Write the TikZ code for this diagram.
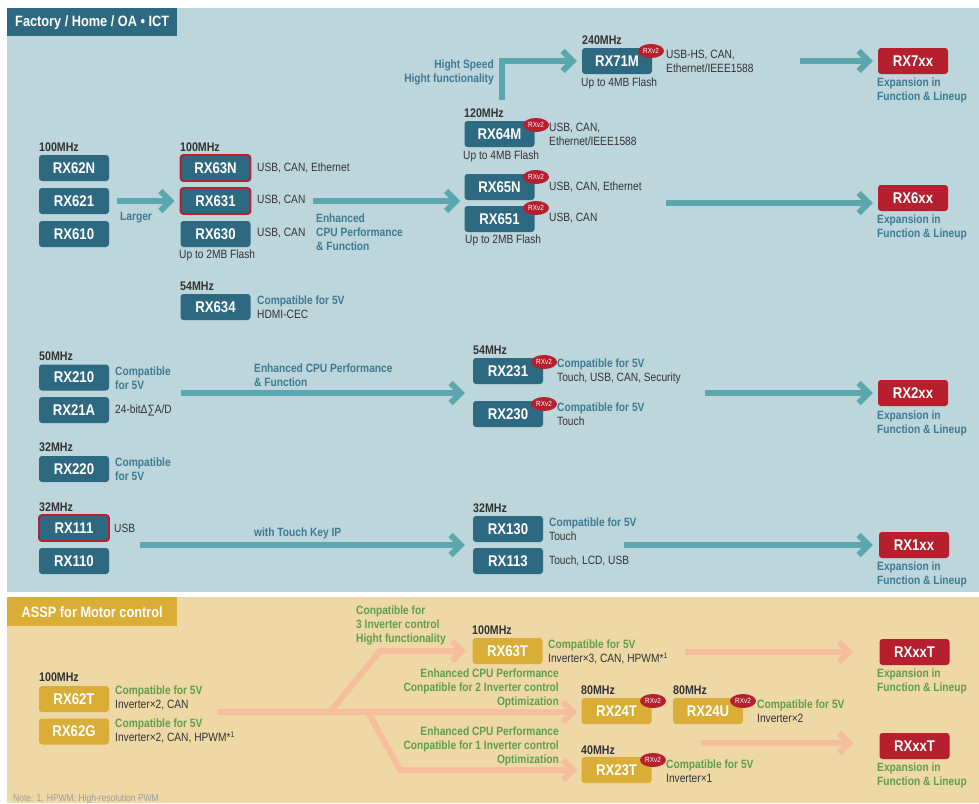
\documentclass[tikz,border=0pt]{standalone}
\usepackage{fontspec}
\setmainfont[FakeStretch=0.85]{Liberation Sans}
\usetikzlibrary{arrows.meta,shapes.geometric}

\definecolor{panelblue}{HTML}{BCD6DB}
\definecolor{tanbg}{HTML}{EED8A6}
\definecolor{chipteal}{HTML}{2D6A82}
\definecolor{assgold}{HTML}{D9AD36}
\definecolor{rxred}{HTML}{B51F2E}
\definecolor{flowteal}{HTML}{5AA8AE}
\definecolor{salmon}{HTML}{F7BE9E}
\definecolor{featblue}{HTML}{3E7A94}
\definecolor{featgreen}{HTML}{5E9E4E}
\definecolor{darktext}{HTML}{333333}
\definecolor{notegrey}{HTML}{9B9B9B}

\begin{document}
\begin{tikzpicture}[x=1pt,y=-1pt,
    chip/.style={rectangle,rounded corners=3pt,fill=chipteal,text=white,minimum width=70pt,minimum height=26pt,inner sep=0pt,font=\bfseries\fontsize{15.5}{16}\selectfont},
    hot/.style={chip,draw=rxred,line width=1.8pt},
    nextgen/.style={chip,fill=rxred},
    motor/.style={chip,fill=assgold},
    rxv2/.style={ellipse,fill=rxred,text=white,minimum width=26pt,minimum height=14pt,inner sep=0pt,font=\fontsize{7.5}{8}\selectfont},
    mhz/.style={anchor=base west,inner sep=0pt,text=darktext,font=\bfseries\fontsize{12.5}{14}\selectfont},
    spec/.style={anchor=west,inner sep=0pt,align=left,text=darktext,font=\fontsize{12}{14}\selectfont},
    feat/.style={spec,text=featblue,font=\bfseries\fontsize{12}{14}\selectfont},
    mfeat/.style={feat,text=featgreen},
    flow/.style={draw=flowteal,line width=6pt,-{Straight Barb[length=10pt,width=20pt]}},
    mflow/.style={flow,draw=salmon},
    head/.style={anchor=north west,minimum width=170pt,minimum height=28pt,inner sep=0pt,text=white,font=\bfseries\fontsize{15}{16}\selectfont}
]
    \useasboundingbox (0,0) rectangle (979,803);
    \fill[panelblue] (7,8) rectangle (979,592);
    \fill[tanbg] (7,597) rectangle (979,803);
    \node[head,fill=chipteal] (hdICT) at (7,8) {Factory / Home / OA • ICT};
    \node[head,fill=assgold,minimum height=29pt] (hdMotor) at (7,597) {ASSP for Motor control};

    % RX600 / RX700
    \node[mhz] (f62) at (39,151) {100MHz};
    \node[chip] (RX62N) at (74,168) {RX62N};
    \node[chip] (RX621) at (74,201) {RX621};
    \node[chip] (RX610) at (74,234) {RX610};
    \node[feat] (lgT) at (120,218) {Larger};

    \node[mhz] (f63) at (180,151) {100MHz};
    \node[hot] (RX63N) at (215.5,168) {RX63N};
    \node[hot] (RX631) at (215.5,201) {RX631};
    \node[chip] (RX630) at (215.5,234) {RX630};
    \node[spec] (s63N) at (257,168) {USB, CAN, Ethernet};
    \node[spec] (s631) at (257,200) {USB, CAN};
    \node[spec] (s630) at (257,233) {USB, CAN};
    \node[spec] (fl63) at (179,255) {Up to 2MB Flash};
    \node[mhz] (f634) at (180,290) {54MHz};
    \node[chip] (RX634) at (215.5,307) {RX634};
    \node[spec] (s634) at (257,307) {\textcolor{featblue}{\textbf{Compatible for 5V}}\\HDMI-CEC};
    \node[feat] (enT) at (316,232) {Enhanced\\CPU Performance\\\& Function};

    \node[mhz] (f64) at (464,117) {120MHz};
    \node[chip] (RX64M) at (499.5,134) {RX64M};
    \node[rxv2] (v64) at (536,125) {RXv2};
    \node[spec] (s64) at (549,134.5) {USB, CAN,\\Ethernet/IEEE1588};
    \node[spec] (fl64) at (463,156) {Up to 4MB Flash};
    \node[chip] (RX65N) at (499.5,187) {RX65N};
    \node[rxv2] (v65) at (536,177) {RXv2};
    \node[spec] (s65) at (549,187) {USB, CAN, Ethernet};
    \node[chip] (RX651) at (499.5,219) {RX651};
    \node[rxv2] (v651) at (536,208) {RXv2};
    \node[spec] (s651) at (549,218) {USB, CAN};
    \node[spec] (fl65) at (465,240) {Up to 2MB Flash};
    \node[feat,anchor=east,align=right] (hsT) at (494,72) {Hight Speed\\Hight functionality};

    \node[mhz] (f71) at (582,44) {240MHz};
    \node[chip] (RX71M) at (617,61) {RX71M};
    \node[rxv2] (v71) at (651,51) {RXv2};
    \node[spec] (s71) at (666,61) {USB-HS, CAN,\\Ethernet/IEEE1588};
    \node[spec] (fl71) at (581,83) {Up to 4MB Flash};

    \node[nextgen] (RX7xx) at (913,61) {RX7xx};
    \node[feat] (e7) at (877,90) {Expansion in\\Function \& Lineup};
    \node[nextgen] (RX6xx) at (913,198) {RX6xx};
    \node[feat] (e6) at (877,227) {Expansion in\\Function \& Lineup};

    \coordinate (lg0) at (117,201);
    \coordinate (en0) at (313,201);
    \coordinate (hs0) at (502,100);
    \coordinate (x70) at (800,61);
    \coordinate (x60) at (666,203);
    \draw[flow,shorten >=5pt] (lg0) -- (lg0 -| RX631.west);
    \draw[flow,shorten >=4pt] (en0) -- (en0 -| RX65N.west);
    \draw[flow,shorten >=5pt] (hs0) |- (RX71M.west);
    \draw[flow,shorten >=5pt] (x70) -- (x70 -| RX7xx.west);
    \draw[flow,shorten >=5pt] (x60) -- (x60 -| RX6xx.west);

    % RX200
    \node[mhz] (f21) at (39,360) {50MHz};
    \node[chip] (RX210) at (74,377.5) {RX210};
    \node[feat] (s210) at (115,378) {Compatible\\for 5V};
    \node[chip] (RX21A) at (74,410) {RX21A};
    \node[spec] (s21A) at (115,410) {24-bitΔ∑A/D};
    \node[mhz] (f22) at (39,451) {32MHz};
    \node[chip] (RX220) at (74,469) {RX220};
    \node[feat] (s220) at (115,469) {Compatible\\for 5V};
    \node[feat] (en2T) at (254,375) {Enhanced CPU Performance\\\& Function};

    \node[mhz] (f23) at (473,354) {54MHz};
    \node[chip] (RX231) at (508,371) {RX231};
    \node[rxv2] (v231) at (544,362) {RXv2};
    \node[spec] (s231) at (557,371) {\textcolor{featblue}{\textbf{Compatible for 5V}}\\Touch, USB, CAN, Security};
    \node[chip] (RX230) at (508,414) {RX230};
    \node[rxv2] (v230) at (544,404) {RXv2};
    \node[spec] (s230) at (557,414) {\textcolor{featblue}{\textbf{Compatible for 5V}}\\Touch};

    \node[nextgen] (RX2xx) at (913,393) {RX2xx};
    \node[feat] (e2) at (877,423) {Expansion in\\Function \& Lineup};

    \coordinate (en2) at (181,393);
    \coordinate (x20) at (705,393);
    \draw[flow,shorten >=8pt] (en2) -- (en2 -| RX231.west);
    \draw[flow,shorten >=5pt] (x20) -- (x20 -| RX2xx.west);

    % RX100
    \node[mhz] (f11) at (39,511) {32MHz};
    \node[hot] (RX111) at (74,528) {RX111};
    \node[spec] (s111) at (114,528) {USB};
    \node[chip] (RX110) at (74,561) {RX110};
    \node[feat] (tkT) at (254,533) {with Touch Key IP};

    \node[mhz] (f13) at (473,512) {32MHz};
    \node[chip] (RX130) at (508,529) {RX130};
    \node[spec] (s130) at (549,529) {\textcolor{featblue}{\textbf{Compatible for 5V}}\\Touch};
    \node[chip] (RX113) at (508,561) {RX113};
    \node[spec] (s113) at (549,561) {Touch, LCD, USB};

    \node[nextgen] (RX1xx) at (914,545) {RX1xx};
    \node[feat] (e1) at (877,574) {Expansion in\\Function \& Lineup};

    \coordinate (tk0) at (140,545);
    \coordinate (x10) at (624,545);
    \draw[flow,shorten >=8pt] (tk0) -- (tk0 -| RX130.west);
    \draw[flow,shorten >=6pt] (x10) -- (x10 -| RX1xx.west);

    % motor control
    \node[mhz] (f62T) at (39,681) {100MHz};
    \node[motor] (RX62T) at (74,699) {RX62T};
    \node[spec] (s62T) at (115,698) {\textcolor{featgreen}{\textbf{Compatible for 5V}}\\Inverter×2, CAN};
    \node[motor] (RX62G) at (74,731.5) {RX62G};
    \node[spec] (s62G) at (115,731) {\textcolor{featgreen}{\textbf{Compatible for 5V}}\\Inverter×2, CAN, HPWM*\textsuperscript{1}};

    \node[mfeat] (m3T) at (356,625) {Conpatible for\\3 Inverter control\\Hight functionality};
    \node[mfeat,anchor=east,align=right] (m2T) at (559,688) {Enhanced CPU Performance\\Conpatible for 2 Inverter control\\Optimization};
    \node[mfeat,anchor=east,align=right] (m1T) at (559,746) {Enhanced CPU Performance\\Conpatible for 1 Inverter control\\Optimization};

    \node[mhz] (f63T) at (472,634) {100MHz};
    \node[motor] (RX63T) at (507.5,651) {RX63T};
    \node[spec] (s63T) at (548,652) {\textcolor{featgreen}{\textbf{Compatible for 5V}}\\Inverter×3, CAN, HPWM*\textsuperscript{1}};
    \node[mhz] (f24T) at (581,694) {80MHz};
    \node[motor] (RX24T) at (616.5,711) {RX24T};
    \node[rxv2] (v24T) at (653,701) {RXv2};
    \node[mhz] (f24U) at (673,694) {80MHz};
    \node[motor] (RX24U) at (708,711) {RX24U};
    \node[rxv2] (v24U) at (743,701) {RXv2};
    \node[spec] (s24U) at (757,711) {\textcolor{featgreen}{\textbf{Compatible for 5V}}\\Inverter×2};
    \node[mhz] (f23T) at (581,754) {40MHz};
    \node[motor] (RX23T) at (616.5,770) {RX23T};
    \node[rxv2] (v23T) at (653,760) {RXv2};
    \node[spec] (s23T) at (666,771) {\textcolor{featgreen}{\textbf{Compatible for 5V}}\\Inverter×1};

    \node[nextgen] (RXxxTa) at (914.5,652) {RXxxT};
    \node[mfeat] (eTa) at (877,681) {Expansion in\\Function \& Lineup};
    \node[nextgen] (RXxxTb) at (914.5,746) {RXxxT};
    \node[mfeat] (eTb) at (877,775) {Expansion in\\Function \& Lineup};

    \coordinate (m0) at (218,712);
    \coordinate (mUp) at (330,712);
    \coordinate (mUpK) at (380,651);
    \coordinate (mDn) at (368,712);
    \coordinate (mDnK) at (400,770);
    \coordinate (t63) at (685,652);
    \coordinate (t23) at (701,743);
    \draw[mflow,shorten >=4pt] (m0) -- (m0 -| RX24T.west);
    \draw[mflow,shorten >=6pt] (mUp) -- (mUpK) -- (mUpK -| RX63T.west);
    \draw[mflow,shorten >=4pt] (mDn) -- (mDnK) -- (mDnK -| RX23T.west);
    \draw[mflow,shorten >=26pt] (t63) -- (t63 -| RXxxTa.west);
    \draw[mflow,shorten >=26pt] (t23) -- (t23 -| RXxxTb.west);

    \node[anchor=base west,inner sep=0pt,text=notegrey,font=\fontsize{10}{12}\selectfont] (note) at (13,801) {Note: 1. HPWM: High-resolution PWM};
\end{tikzpicture}
\end{document}
